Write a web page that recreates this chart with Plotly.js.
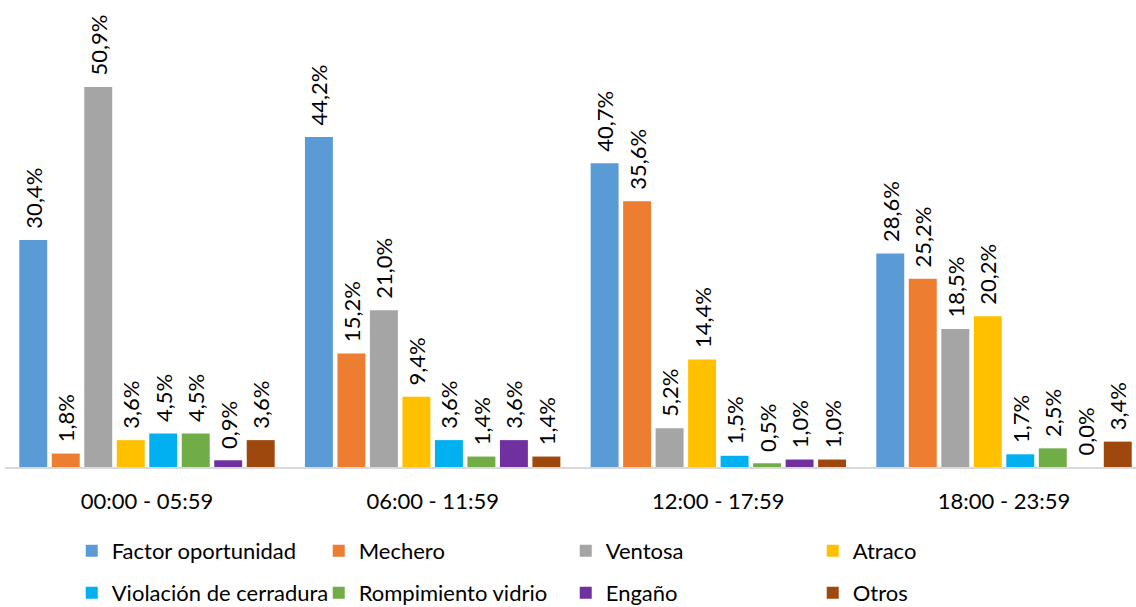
<!DOCTYPE html>
<html>
<head>
<meta charset="utf-8">
<script src="https://cdn.plot.ly/plotly-3.0.1.min.js"></script>
<style>html,body{margin:0;padding:0;background:#fff;}#chart{width:1136px;height:607px;}</style>
</head>
<body>
<div id="chart"></div>
<script>
const categories = ["00:00 - 05:59", "06:00 - 11:59", "12:00 - 17:59", "18:00 - 23:59"];
const seriesNames = ["Factor oportunidad", "Mechero", "Ventosa", "Atraco",
  "Violación de cerradura", "Rompimiento vidrio", "Engaño", "Otros"];
const factorOportunidad = [30.4, 44.2, 40.7, 28.6];
const mechero = [1.8, 15.2, 35.6, 25.2];
const ventosa = [50.9, 21.0, 5.2, 18.5];
const atraco = [3.6, 9.4, 14.4, 20.2];
const violacion = [4.5, 3.6, 1.5, 1.7];
const rompimiento = [4.5, 1.4, 0.5, 2.5];
const engano = [0.9, 3.6, 1.0, 0.0];
const otros = [3.6, 1.4, 1.0, 3.4];
const seriesValues = [factorOportunidad, mechero, ventosa, atraco, violacion, rompimiento, engano, otros];
const colors = ["#5B9BD5", "#ED7D31", "#A5A5A5", "#FFC000", "#00B0F0", "#70AD47", "#7030A0", "#9E480E"];

const FONT = "Lato, 'Open Sans', sans-serif";
const FS = 22;
const pad = "\u00a0\u2009";

const traces = seriesNames.map((name, i) => ({
  type: "bar",
  name: name,
  x: categories,
  y: seriesValues[i],
  text: seriesValues[i].map(v => pad + v.toFixed(1).replace(".", ",") + "%"),
  textposition: "outside",
  textangle: -90,
  constraintext: "none",
  cliponaxis: false,
  textfont: {family: FONT, size: FS, color: "#000"},
  marker: {color: colors[i]},
  hoverinfo: "skip",
  legend: i < 4 ? "legend" : "legend2"
}));

const legendCommon = {
  orientation: "h",
  xanchor: "left",
  yanchor: "middle",
  x: 0.059,
  yref: "container",
  entrywidth: 202,
  entrywidthmode: "pixels",
  font: {family: FONT, size: FS, color: "#000"},
  bgcolor: "rgba(0,0,0,0)",
  traceorder: "normal"
};

const layout = {
  width: 1136,
  height: 607,
  margin: {l: 5, r: 0, t: 0, b: 140},
  paper_bgcolor: "#fff",
  plot_bgcolor: "#fff",
  barmode: "group",
  bargap: 0.09,
  bargroupgap: 0.14,
  showlegend: true,
  font: {family: FONT, size: FS, color: "#000"},
  xaxis: {
    type: "category",
    range: [-0.497, 3.462],
    showgrid: false,
    showline: true,
    linecolor: "#D9D9D9",
    linewidth: 1.5,
    ticks: "outside",
    ticklen: 14,
    tickcolor: "rgba(0,0,0,0)",
    tickfont: {family: FONT, size: FS, color: "#000"},
    zeroline: false
  },
  yaxis: {
    range: [0, 62.55],
    visible: false,
    showgrid: false,
    zeroline: false
  },
  legend: Object.assign({}, legendCommon, {y: 0.0923}),
  legend2: Object.assign({}, legendCommon, {y: 0.0231})
};

Plotly.newPlot("chart", traces, layout, {displayModeBar: false, staticPlot: true});
</script>
</body>
</html>
